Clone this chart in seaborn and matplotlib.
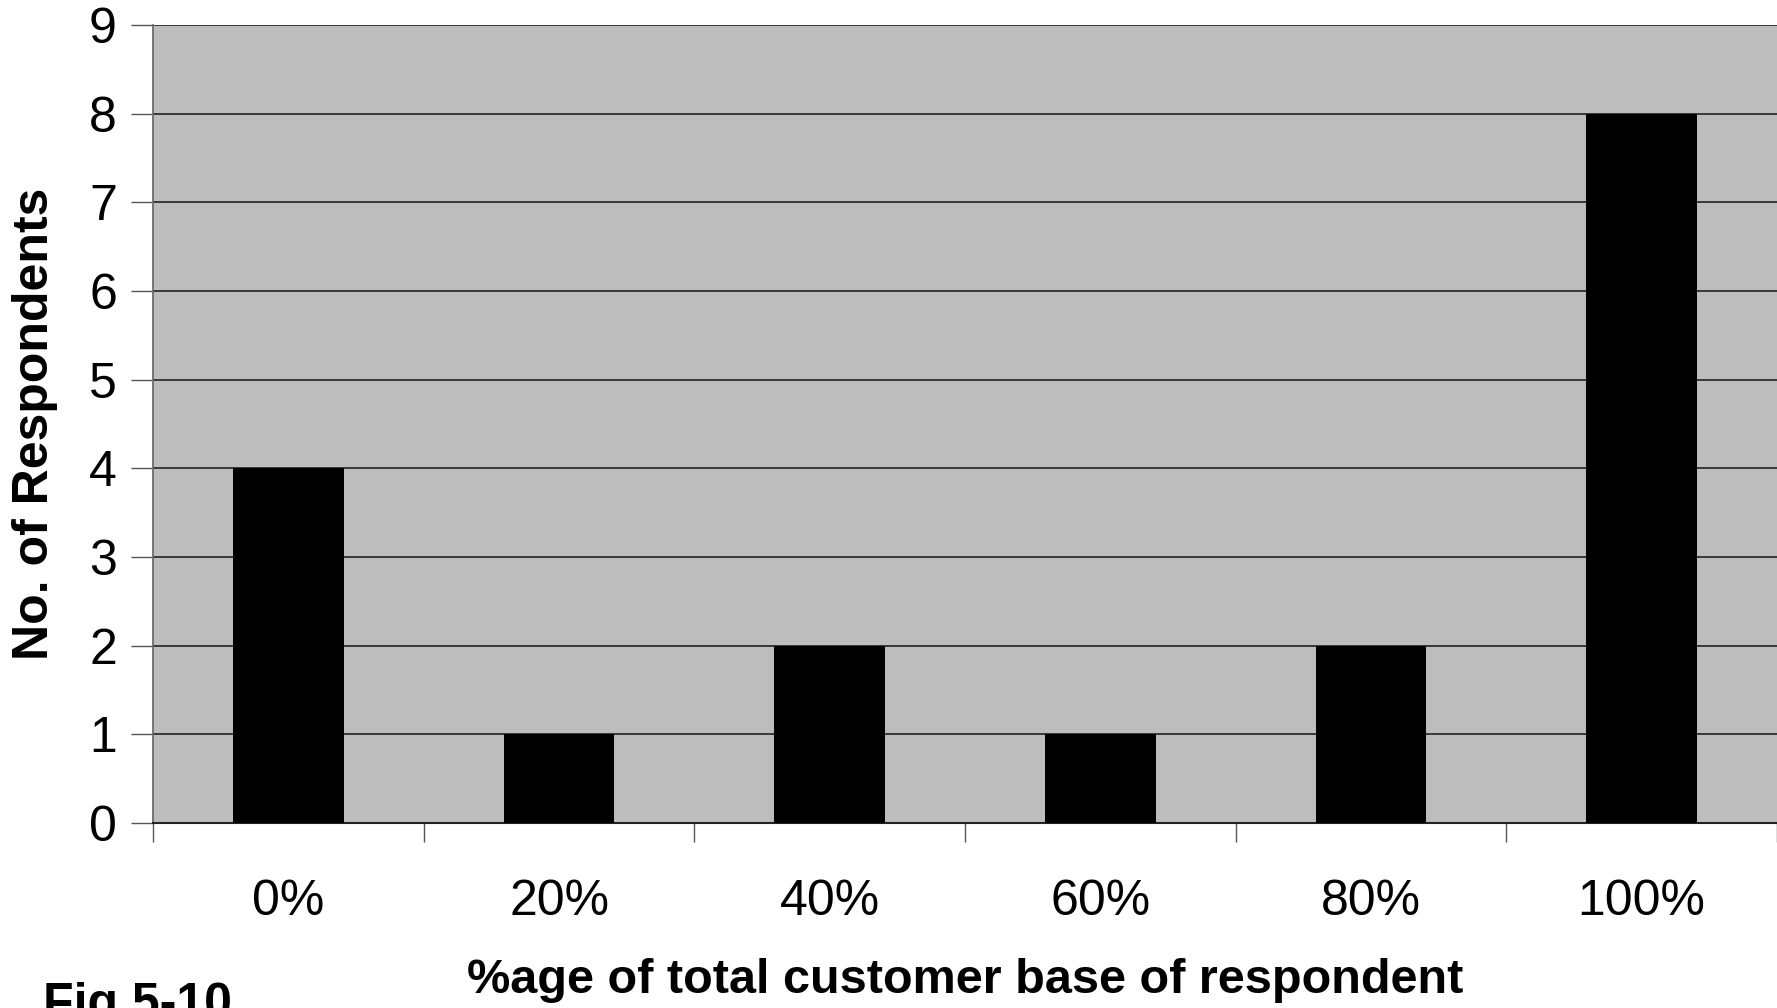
import numpy as np
import pandas as pd
import matplotlib
matplotlib.use("Agg")
import matplotlib.pyplot as plt
import seaborn as sns

# ── Data ───────────────────────────────────────────────────────────────────────
categories = ["0%", "20%", "40%", "60%", "80%", "100%"]
respondents = [4, 1, 2, 1, 2, 8]

df = pd.DataFrame({"share": categories, "count": respondents})

sns.set_theme(style="white")
plt.rcParams["font.family"] = ["Liberation Sans", "DejaVu Sans"]
plt.rcParams["text.color"] = "black"

fig = plt.figure(figsize=(17.77, 10.08), dpi=100)
ax = fig.add_axes([153 / 1777, 1 - 823 / 1008, 1 - 153 / 1777, (823 - 25) / 1008])
ax.set_facecolor("#bdbdbd")

sns.barplot(data=df, x="share", y="count", color="black", width=0.41,
            saturation=1, linewidth=0, ax=ax, zorder=3)

ax.set_ylim(0, 9)
ax.set_xlim(-0.5, len(categories) - 0.5)
ax.set_yticks(range(10))
ax.yaxis.grid(True, color="#222222", linewidth=1.2, zorder=1)
ax.set_axisbelow(True)

# ticks: y outward, x ticks on category boundaries
ax.tick_params(axis="y", which="major", left=True, length=16, width=1,
               color="#555555", labelsize=36, pad=10, labelcolor="black")
ax.tick_params(axis="x", which="major", bottom=False, labelsize=36, pad=34,
               labelcolor="black")
ax.set_xticks(np.arange(-0.5, len(categories), 1.0), minor=True)
ax.tick_params(axis="x", which="minor", bottom=True, length=14, width=1,
               color="#555555")

for side in ["top", "right"]:
    ax.spines[side].set_visible(False)
ax.spines["left"].set_color("#666666")
ax.spines["bottom"].set_color("#222222")
ax.spines["bottom"].set_linewidth(1.5)

ax.set_ylabel("No. of Respondents", fontsize=36, fontweight="bold",
              labelpad=22, color="black")
ax.set_xlabel("%age of total customer base of respondent", fontsize=35,
              fontweight="bold", labelpad=24, color="black")

fig.text(43 / 1777, 1 - 982 / 1008, "Fig 5-10", fontsize=36, fontweight="bold",
         va="top", ha="left", color="black")

fig.savefig("out.png", dpi=100)
